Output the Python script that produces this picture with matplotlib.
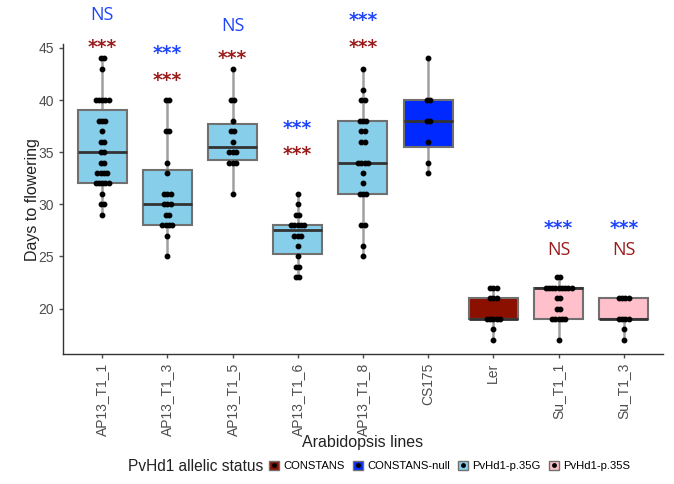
import numpy as np
import matplotlib.pyplot as plt
from matplotlib.patches import Patch
from matplotlib.lines import Line2D
from matplotlib.legend_handler import HandlerTuple

plt.rcParams['font.family'] = ['Liberation Sans', 'DejaVu Sans']

lines = ['AP13_T1_1', 'AP13_T1_3', 'AP13_T1_5', 'AP13_T1_6', 'AP13_T1_8',
         'CS175', 'Ler', 'Su_T1_1', 'Su_T1_3']
status = ['PvHd1-p.35G'] * 5 + ['CONSTANS-null', 'CONSTANS', 'PvHd1-p.35S', 'PvHd1-p.35S']

# days to flowering, one list per line
ap13_t1_1 = [29, 30, 30, 31, 32, 32, 32, 32, 32, 33, 33, 33, 33, 34, 34, 35, 35, 36, 36,
             37, 38, 38, 38, 40, 40, 40, 40, 40, 43, 44, 44]
ap13_t1_3 = [25, 27, 28, 28, 28, 28, 29, 29, 30, 30, 30, 31, 31, 31, 33, 34, 37, 37, 40, 40]
ap13_t1_5 = [31, 34, 34, 34, 35, 35, 35, 36, 37, 37, 38, 40, 40, 43]
ap13_t1_6 = [23, 23, 24, 24, 25, 26, 27, 27, 27, 28, 28, 28, 28, 28, 29, 29, 30, 31]
ap13_t1_8 = [25, 26, 28, 28, 31, 31, 31, 32, 33, 34, 34, 34, 34, 36, 36, 37, 37, 38, 38,
             38, 40, 40, 41, 43]
cs175 = [33, 34, 36, 38, 38, 40, 40, 44]
ler = [17, 18, 19, 19, 19, 19, 19, 21, 21, 21, 22, 22, 22]
su_t1_1 = [17, 19, 19, 19, 19, 19, 20, 20, 21, 21, 22, 22, 22, 22, 22, 22, 22, 22, 22, 23, 23]
su_t1_3 = [17, 18, 19, 19, 19, 19, 21, 21, 21, 21]
groups = [ap13_t1_1, ap13_t1_3, ap13_t1_5, ap13_t1_6, ap13_t1_8, cs175, ler, su_t1_1, su_t1_3]

# significance labels (blue row and dark red row) and where they sit
sig_blue = ['NS', '***', 'NS', '***', '***', '', '', '***', '***']
sig_blue_y = [48.15, 45.4, 47.1, 38.2, 48.5, 0, 0, 28.6, 28.6]
sig_red = ['***', '***', '***', '***', '***', '', '', 'NS', 'NS']
sig_red_y = [45.95, 42.8, 44.9, 35.65, 45.95, 0, 0, 25.6, 25.6]

colors = {'CONSTANS': '#8B1000', 'CONSTANS-null': '#0029FF',
          'PvHd1-p.35G': '#87CEEB', 'PvHd1-p.35S': '#FFC0CB'}
blue = '#1F45FC'
red = '#9B1B1B'

fig = plt.figure(figsize=(6.74, 4.84), dpi=100)
ax = fig.add_axes([0.0935, 0.2686, 0.89, 0.640])

pos = np.arange(len(lines))
bp = ax.boxplot(groups, positions=pos, widths=0.75, patch_artist=True, showfliers=False,
                whis=1.5, capprops=dict(linewidth=0),
                whiskerprops=dict(color='#a0a0a0', linewidth=1.8),
                medianprops=dict(color='#333333', linewidth=2),
                boxprops=dict(edgecolor='#707070', linewidth=1.5))
for patch, s in zip(bp['boxes'], status):
    patch.set_facecolor(colors[s])
for w in bp['whiskers']:
    w.set_zorder(0.5)

# spread tied values sideways so they show up as little clumps
for i, g in enumerate(groups):
    vals = np.array(g)
    for v in np.unique(vals):
        k = (vals == v).sum()
        off = (np.arange(k) - (k - 1) / 2) * 0.05
        ax.plot(i + off, [v] * k, 'o', color='black', ms=3.2, zorder=5)

for i in range(len(lines)):
    for txt, y, c in [(sig_blue[i], sig_blue_y[i], blue), (sig_red[i], sig_red_y[i], red)]:
        if txt == '':
            continue
        if txt == 'NS':
            ax.text(i, y, txt, color=c, fontsize=13, family='Open Sans', ha='center',
                    va='center', clip_on=False)
        else:
            ax.text(i, y - 0.9, txt, color=c, fontsize=13.5, family='DejaVu Sans',
                    fontweight='bold', ha='center', va='center', clip_on=False)

ax.set_xlim(-0.6, 8.6)
ax.set_ylim(15.65, 45.35)
ax.set_yticks([20, 25, 30, 35, 40, 45])
ax.set_xticks(pos)
ax.set_xticklabels(lines, rotation=90)
ax.tick_params(colors='#4d4d4d', labelsize=10, length=3, width=1)
for sp in ['top', 'right']:
    ax.spines[sp].set_visible(False)
for sp in ['left', 'bottom']:
    ax.spines[sp].set_color('#333333')
    ax.spines[sp].set_linewidth(1)
ax.set_ylabel('Days to flowering', fontsize=11.5, color='#222222', labelpad=-1)
ax.set_xlabel('Arabidopsis lines', fontsize=11.5, color='#222222', labelpad=-1)

# legend: title on the same row as the keys
order = ['CONSTANS', 'CONSTANS-null', 'PvHd1-p.35G', 'PvHd1-p.35S']
title = fig.text(128 / 674, 0.037, 'PvHd1 allelic status', fontsize=11.2, color='#222222',
                 ha='left', va='center')
renderer = fig.canvas.get_renderer()
tb = title.get_window_extent(renderer)
handles = [(Patch(facecolor=colors[s], edgecolor='#707070', linewidth=1),
            Line2D([], [], marker='o', color='black', ms=2.5, linestyle='none')) for s in order]
fig.legend(handles, order, loc='center left', bbox_to_anchor=((tb.x1 + 6) / 674, 0.037), ncol=4,
           frameon=False, fontsize=8.1, handler_map={tuple: HandlerTuple(ndivide=1, pad=0)},
           handlelength=0.85, handleheight=0.85, handletextpad=0.4, columnspacing=0.75,
           borderaxespad=0, borderpad=0)

fig.savefig('out.png', dpi=100)
